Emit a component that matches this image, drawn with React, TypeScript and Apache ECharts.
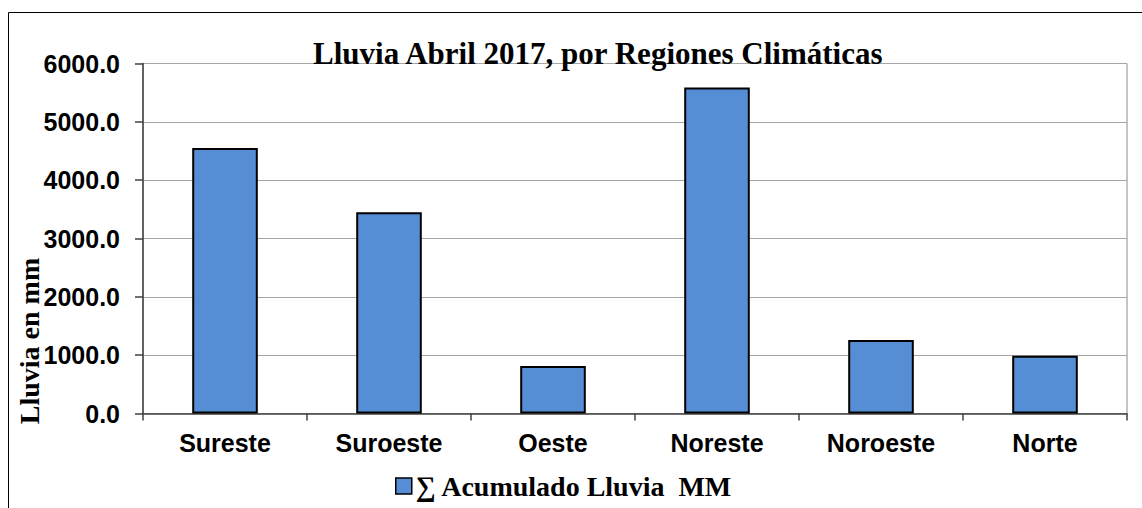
import React, { useEffect, useRef } from "react";
import * as echarts from "echarts";

const categories = ["Sureste", "Suroeste", "Oeste", "Noreste", "Noroeste", "Norte"];
const rainfall = [4550, 3450, 815, 5590, 1260, 990];
const seriesName = "∑ Acumulado Lluvia  MM";
const titleText = "Lluvia Abril 2017, por Regiones Climáticas";
const yAxisTitle = "Lluvia en mm";

const serif = "'Times New Roman', 'Liberation Serif', serif";
const sans = "Arial, 'Liberation Sans', sans-serif";

export default function App() {
  const ref = useRef<HTMLDivElement>(null);
  useEffect(() => {
    if (!ref.current) return;
    const chart = echarts.init(ref.current, null, { renderer: "svg" });
    chart.setOption({
      animation: false,
      backgroundColor: "#ffffff",
      title: {
        text: titleText,
        left: 313,
        top: 38,
        padding: 0,
        textStyle: { fontFamily: serif, fontWeight: "bold", fontSize: 31, color: "#000" },
      },
      grid: {
        left: 143,
        right: 15,
        top: 63.5,
        bottom: 94.5,
        show: true,
        borderColor: "#8c8c8c",
        borderWidth: 1,
        containLabel: false,
      },
      legend: {
        bottom: 8,
        left: 395,
        itemWidth: 16,
        itemHeight: 16,
        itemGap: 10,
        padding: 0,
        textStyle: { fontFamily: serif, fontWeight: "bold", fontSize: 28, color: "#000", padding: [0, 0, 0, -1] },
        data: [
          {
            name: seriesName,
            icon: "rect",
            itemStyle: { color: "#558ED5", borderColor: "#000", borderWidth: 1.5 },
          },
        ],
      },
      xAxis: {
        type: "category",
        data: categories,
        axisLine: { lineStyle: { color: "#404040", width: 1.5 } },
        axisTick: { show: true, length: 7, alignWithLabel: false, lineStyle: { color: "#404040", width: 1.5 } },
        axisLabel: { fontFamily: sans, fontWeight: "bold", fontSize: 25, color: "#000", margin: 17 },
      },
      yAxis: {
        type: "value",
        min: 0,
        max: 6000,
        interval: 1000,
        axisLine: { show: true, lineStyle: { color: "#404040", width: 1.5 } },
        axisTick: { show: true, length: 8, lineStyle: { color: "#404040", width: 1.5 } },
        axisLabel: {
          fontFamily: sans,
          fontWeight: "bold",
          fontSize: 25,
          color: "#000",
          margin: 23,
          formatter: (v: number) => v.toFixed(1),
        },
        splitLine: { show: true, lineStyle: { color: "#a6a6a6", width: 1 } },
      },
      series: [
        {
          name: seriesName,
          type: "bar",
          data: rainfall,
          barWidth: "40%",
          itemStyle: { color: "#558ED5", borderColor: "#000", borderWidth: 2 },
        },
      ],
      graphic: [
        {
          type: "rect",
          shape: { x: 8.5, y: 12.5, width: 1200, height: 600 },
          style: { fill: "none", stroke: "#000", lineWidth: 1 },
          silent: true,
          z: 100,
        },
        {
          type: "text",
          x: 29,
          y: 341,
          rotation: Math.PI / 2,
          style: {
            text: yAxisTitle,
            fontFamily: serif,
            fontWeight: "bold",
            fontSize: 28,
            fill: "#000",
            textAlign: "center",
            textVerticalAlign: "middle",
          },
        },
      ],
    });
    return () => chart.dispose();
  }, []);
  return (
    <div
      ref={ref}
      style={{ position: "absolute", left: 0, top: 0, width: 1142, height: 508 }}
    />
  );
}
